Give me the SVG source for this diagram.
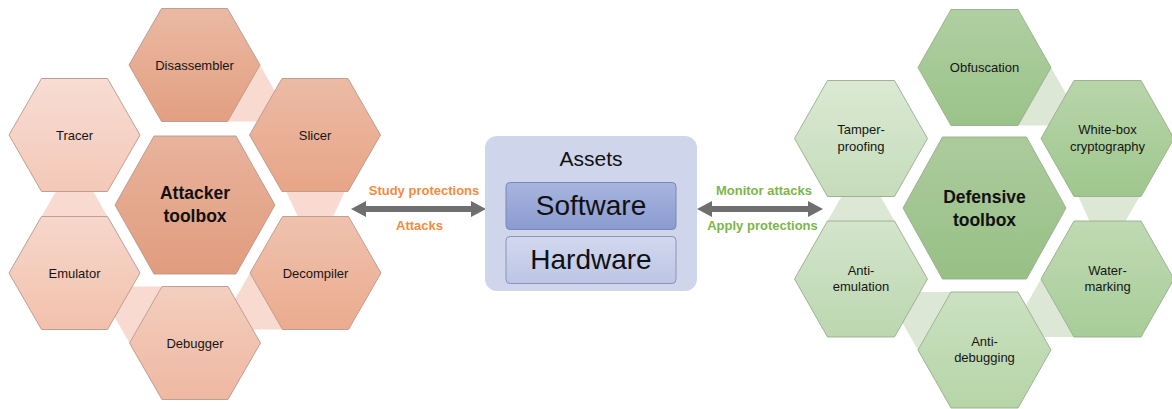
<svg xmlns="http://www.w3.org/2000/svg" width="1172" height="409" viewBox="0 0 1172 409">
<style>
.hl{stroke:#B8978A;stroke-width:0.9}
.hr{stroke:#97AD8B;stroke-width:0.9}
.bl{fill:#F8DAD0}
.br{fill:#DCE8D5}
.t{font-family:"Liberation Sans",Arial,sans-serif;font-size:13px;fill:#151515;text-anchor:middle}
.tb{font-family:"Liberation Sans",Arial,sans-serif;font-size:17.5px;font-weight:bold;fill:#111;text-anchor:middle}
.lab{font-family:"Liberation Sans",Arial,sans-serif;font-size:13px;font-weight:bold;text-anchor:middle}
.or{fill:#F28B3E}
.gr{fill:#7CB64A}
.arr{fill:#6F6F6F}
</style>
<defs>
<linearGradient id="gDis" x1="0" y1="0" x2="0" y2="1"><stop offset="0" stop-color="#EAB9A3"/><stop offset="1" stop-color="#E39F81"/></linearGradient>
<linearGradient id="gTra" x1="0" y1="0" x2="0" y2="1"><stop offset="0" stop-color="#F7DDD3"/><stop offset="1" stop-color="#F4C8B7"/></linearGradient>
<linearGradient id="gSli" x1="0" y1="0" x2="0" y2="1"><stop offset="0" stop-color="#EBBBA5"/><stop offset="1" stop-color="#E8A587"/></linearGradient>
<linearGradient id="gAtt" x1="0" y1="0" x2="0" y2="1"><stop offset="0" stop-color="#E8B39C"/><stop offset="1" stop-color="#E19C7E"/></linearGradient>
<linearGradient id="gEmu" x1="0" y1="0" x2="0" y2="1"><stop offset="0" stop-color="#F6D7CB"/><stop offset="1" stop-color="#F2C1AD"/></linearGradient>
<linearGradient id="gDec" x1="0" y1="0" x2="0" y2="1"><stop offset="0" stop-color="#EFC2AE"/><stop offset="1" stop-color="#EBAB8F"/></linearGradient>
<linearGradient id="gDeb" x1="0" y1="0" x2="0" y2="1"><stop offset="0" stop-color="#F3CEBF"/><stop offset="1" stop-color="#EFB8A1"/></linearGradient>
<linearGradient id="gObf" x1="0" y1="0" x2="0" y2="1"><stop offset="0" stop-color="#B0CFA1"/><stop offset="1" stop-color="#9AC389"/></linearGradient>
<linearGradient id="gTam" x1="0" y1="0" x2="0" y2="1"><stop offset="0" stop-color="#DBE9D4"/><stop offset="1" stop-color="#C5DCBA"/></linearGradient>
<linearGradient id="gWB" x1="0" y1="0" x2="0" y2="1"><stop offset="0" stop-color="#B8D5AA"/><stop offset="1" stop-color="#9FC78D"/></linearGradient>
<linearGradient id="gDef" x1="0" y1="0" x2="0" y2="1"><stop offset="0" stop-color="#ACCB9D"/><stop offset="1" stop-color="#97C085"/></linearGradient>
<linearGradient id="gAE" x1="0" y1="0" x2="0" y2="1"><stop offset="0" stop-color="#D3E5CB"/><stop offset="1" stop-color="#BCD7B0"/></linearGradient>
<linearGradient id="gWat" x1="0" y1="0" x2="0" y2="1"><stop offset="0" stop-color="#C0DAB3"/><stop offset="1" stop-color="#A8CD98"/></linearGradient>
<linearGradient id="gAD" x1="0" y1="0" x2="0" y2="1"><stop offset="0" stop-color="#CCE1C2"/><stop offset="1" stop-color="#B5D5A7"/></linearGradient>
<linearGradient id="gSoft" x1="0" y1="0" x2="0" y2="1"><stop offset="0" stop-color="#A8B5DE"/><stop offset="1" stop-color="#8A9BD0"/></linearGradient>
<linearGradient id="gHard" x1="0" y1="0" x2="0" y2="1"><stop offset="0" stop-color="#D2D8EF"/><stop offset="1" stop-color="#BCC5E5"/></linearGradient>
</defs>

<g id="connectors">
<g id="bands-left">
<polygon class="bl" points="227.5,121.5 260,65 280,100 262,121.5"/>
<polygon class="bl" points="286,191 298.5,218 332.5,218 345,191"/>
<polygon class="bl" points="250,273 228.7,310 245,329.5 282.5,329.5"/>
<polygon class="bl" points="162,286.5 125,286.5 107.6,305 129.5,343"/>
<polygon class="bl" points="41.5,216.5 56.7,190 92.3,190 107.5,216.5"/>
</g>
<g id="bands-right">
<polygon class="br" points="1018,125.5 1051,67.5 1071,102.6 1052,125.5"/>
<polygon class="br" points="1078,196 1090,222 1125,222 1140,196"/>
<polygon class="br" points="1041,279 1018.8,318 1036,337 1074,337"/>
<polygon class="br" points="951,292 912,292 895.2,310 918,350"/>
<polygon class="br" points="827.5,221 842.9,194 879.1,194 894.5,221"/>
</g>
<polygon id="arrow-left" class="arr" points="351,209 366,201 366,206 471,206 471,201 486,209 471,217 471,212 366,212 366,217"/>
<polygon id="arrow-right" class="arr" points="697,209 712,201 712,206 808,206 808,201 823,209 808,217 808,212 712,212 712,217"/>
<text class="lab or" x="424" y="195">Study protections</text>
<text class="lab or" x="419.5" y="230">Attacks</text>
<text class="lab gr" x="764" y="195">Monitor attacks</text>
<text class="lab gr" x="762.5" y="230">Apply protections</text>
</g>

<g id="disassembler"><polygon class="hl" fill="url(#gDis)" points="129,65 161.5,8.5 227.5,8.5 260,65 227.5,121.5 161.5,121.5"/><text class="t" x="194.5" y="69.5">Disassembler</text></g>
<g id="tracer"><polygon class="hl" fill="url(#gTra)" points="9,135 41.5,78.5 107.5,78.5 140,135 107.5,191.5 41.5,191.5"/><text class="t" x="74.5" y="139.5">Tracer</text></g>
<g id="slicer"><polygon class="hl" fill="url(#gSli)" points="249.5,135 282,78.5 348,78.5 380.5,135 348,191.5 282,191.5"/><text class="t" x="315" y="139.5">Slicer</text></g>
<g id="attacker-toolbox"><polygon class="hl" fill="url(#gAtt)" points="115,205 154,136 236,136 275,205 236,274 154,274"/><text class="tb" x="195" y="198.5">Attacker</text><text class="tb" x="195" y="222">toolbox</text></g>
<g id="emulator"><polygon class="hl" fill="url(#gEmu)" points="9,273 41.5,216.5 107.5,216.5 140,273 107.5,329.5 41.5,329.5"/><text class="t" x="74.5" y="277.5">Emulator</text></g>
<g id="decompiler"><polygon class="hl" fill="url(#gDec)" points="250,273 282.5,216.5 348.5,216.5 381,273 348.5,329.5 282.5,329.5"/><text class="t" x="315.5" y="277.5">Decompiler</text></g>
<g id="debugger"><polygon class="hl" fill="url(#gDeb)" points="129.5,343 162,286.5 228,286.5 260.5,343 228,399.5 162,399.5"/><text class="t" x="195" y="347.5">Debugger</text></g>

<g id="assets">
<rect x="485" y="136" width="212" height="155" rx="12" fill="#CFD5EA"/>
<text x="591" y="166" font-family="'Liberation Sans',Arial,sans-serif" font-size="21" fill="#111" text-anchor="middle">Assets</text>
</g>
<g id="software">
<rect x="506" y="182.5" width="170" height="47" rx="4" fill="url(#gSoft)" stroke="#7888B8" stroke-width="1"/>
<text x="591" y="215" font-family="'Liberation Sans',Arial,sans-serif" font-size="28" fill="#111" text-anchor="middle">Software</text>
</g>
<g id="hardware">
<rect x="506" y="236.5" width="170" height="47" rx="4" fill="url(#gHard)" stroke="#8C95B4" stroke-width="1"/>
<text x="591" y="268.5" font-family="'Liberation Sans',Arial,sans-serif" font-size="28" fill="#111" text-anchor="middle">Hardware</text>
</g>

<g id="obfuscation"><polygon class="hr" fill="url(#gObf)" points="918,67.5 951,9.5 1018,9.5 1051,67.5 1018,125.5 951,125.5"/><text class="t" x="984.5" y="72">Obfuscation</text></g>
<g id="tamper-proofing"><polygon class="hr" fill="url(#gTam)" points="794.5,138.5 827.5,80.5 894.5,80.5 927.5,138.5 894.5,196.5 827.5,196.5"/><text class="t" x="861" y="134">Tamper-</text><text class="t" x="861" y="150.5">proofing</text></g>
<g id="white-box-cryptography"><polygon class="hr" fill="url(#gWB)" points="1041,138.5 1074,80.5 1141,80.5 1174,138.5 1141,196.5 1074,196.5"/><text class="t" x="1107.5" y="134">White-box</text><text class="t" x="1107.5" y="150.5">cryptography</text></g>
<g id="defensive-toolbox"><polygon class="hr" fill="url(#gDef)" points="903,208 942.5,137 1026.5,137 1066,208 1026.5,279 942.5,279"/><text class="tb" x="984.5" y="202.5">Defensive</text><text class="tb" x="984.5" y="225.5">toolbox</text></g>
<g id="anti-emulation"><polygon class="hr" fill="url(#gAE)" points="794.5,279 827.5,221 894.5,221 927.5,279 894.5,337 827.5,337"/><text class="t" x="861" y="274.5">Anti-</text><text class="t" x="861" y="291">emulation</text></g>
<g id="water-marking"><polygon class="hr" fill="url(#gWat)" points="1041,279 1074,221 1141,221 1174,279 1141,337 1074,337"/><text class="t" x="1107.5" y="274.5">Water-</text><text class="t" x="1107.5" y="291">marking</text></g>
<g id="anti-debugging"><polygon class="hr" fill="url(#gAD)" points="918,350 951,292 1018,292 1051,350 1018,408 951,408"/><text class="t" x="984.5" y="345.5">Anti-</text><text class="t" x="984.5" y="362">debugging</text></g>
</svg>
